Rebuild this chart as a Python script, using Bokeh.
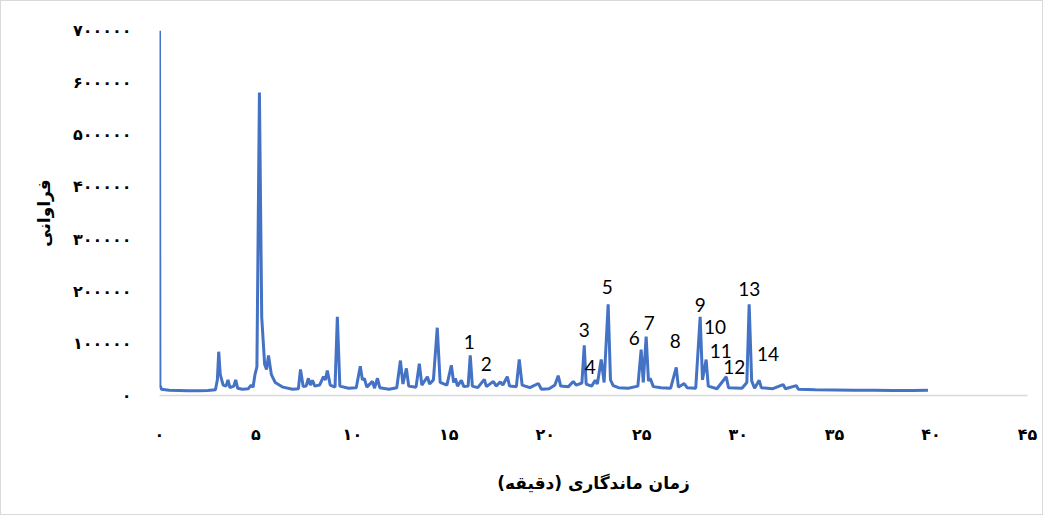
from bokeh.plotting import figure
from bokeh.models import Range1d, FixedTicker, ColumnDataSource
from bokeh.core.properties import value
from bokeh.embed import file_html
from bokeh.resources import INLINE

# retention time (min) and abundance
times = [0.00, 0.02, 0.1, 0.5, 1.0, 1.5, 2.0, 2.5, 2.9, 3.0, 3.07, 3.15, 3.3, 3.45, 3.55, 3.65,
         3.85, 3.95, 4.05, 4.3, 4.6, 4.75, 4.85, 4.95, 5.05, 5.18, 5.3, 5.45, 5.55, 5.65, 5.8,
         6.0, 6.4, 6.9, 7.2, 7.31, 7.45, 7.6, 7.72, 7.82, 7.93, 8.05, 8.3, 8.5, 8.6, 8.7, 8.85,
         9.1, 9.22, 9.35, 9.8, 10.2, 10.41, 10.52, 10.62, 10.75, 11.04, 11.15, 11.3, 11.42,
         11.9, 12.3, 12.49, 12.62, 12.8, 12.92, 13.3, 13.47, 13.6, 13.89, 14.0, 14.2, 14.4,
         14.55, 14.9, 15.13, 15.25, 15.34, 15.45, 15.65, 15.78, 16.0, 16.11, 16.22, 16.5,
         16.84, 16.95, 17.31, 17.45, 17.67, 17.8, 18.03, 18.15, 18.5, 18.65, 18.8, 19.2,
         19.64, 19.8, 20.2, 20.5, 20.67, 20.8, 21.2, 21.45, 21.6, 21.9, 22.02, 22.12, 22.4,
         22.59, 22.7, 22.9, 23.05, 23.26, 23.38, 23.52, 23.8, 24.3, 24.8, 24.97, 25.08, 25.23,
         25.35, 25.44, 25.6, 26.0, 26.5, 26.79, 26.9, 27.2, 27.35, 27.8, 28.03, 28.15, 28.34,
         28.45, 28.9, 29.38, 29.5, 30.2, 30.45, 30.57, 30.7, 30.85, 31.09, 31.2, 31.8, 32.33,
         32.45, 33.01, 33.12, 34.0, 35.0, 36.0, 37.0, 38.0, 39.0, 39.84]
abundance = [700000, 20000, 12000, 10000, 9500, 9000, 9000, 9500, 11000, 30000, 84000, 40000,
             20000, 18000, 30000, 15000, 18000, 30000, 14000, 12000, 13000, 20000, 16000, 40000,
             55000, 581000, 150000, 60000, 50000, 77000, 40000, 25000, 16000, 12000, 13000,
             50000, 17000, 18000, 33000, 20000, 29000, 18000, 20000, 36000, 30000, 48000, 20000,
             16000, 151000, 18000, 14000, 15000, 56000, 30000, 33000, 16000, 27000, 14000, 33000,
             15000, 12000, 15000, 67000, 22000, 52000, 18000, 16000, 61000, 20000, 36000, 22000,
             30000, 130000, 25000, 20000, 58000, 25000, 33000, 18000, 29000, 17000, 18000, 77000,
             18000, 15000, 31000, 17000, 27000, 18000, 26000, 20000, 36000, 18000, 17000, 69000,
             20000, 15000, 23000, 12000, 13000, 20000, 38000, 18000, 17000, 27000, 20000, 24000,
             96000, 22000, 18000, 29000, 22000, 69000, 25000, 175000, 30000, 19000, 15000, 14000,
             18000, 88000, 25000, 113000, 28000, 33000, 17000, 15000, 14000, 54000, 16000, 23000,
             15000, 14000, 151000, 30000, 69000, 18000, 13000, 36000, 15000, 14000, 25000, 175000,
             28000, 14000, 29000, 15000, 13000, 21000, 13000, 19000, 12000, 11000, 10500, 10000,
             10000, 9500, 9500, 10000]

# peak numbers and their label positions
peak_labels = ["1", "2", "3", "4", "5", "6", "7", "8", "9", "10", "11", "12", "13", "14"]
label_t = [16.06, 16.94, 22.02, 22.33, 23.21, 24.61, 25.39, 26.74, 28.03, 28.8, 29.1, 29.8, 30.57, 31.55]
label_y = [101700, 61000, 125000, 54000, 209000, 111000, 140000, 103600, 174500, 132000, 86000,
           55600, 205000, 80500]

x_ticks = [0, 5, 10, 15, 20, 25, 30, 35, 40, 45]
x_tick_labels = ["۰", "۵", "۱۰", "۱۵", "۲۰", "۲۵", "۳۰", "۳۵", "۴۰", "۴۵"]
y_ticks = [0, 100000, 200000, 300000, 400000, 500000, 600000, 700000]
y_tick_labels = ["۰", "۱۰۰۰۰۰", "۲۰۰۰۰۰", "۳۰۰۰۰۰", "۴۰۰۰۰۰", "۵۰۰۰۰۰", "۶۰۰۰۰۰", "۷۰۰۰۰۰"]

p = figure(width=1043, height=515, output_backend="svg", toolbar_location=None,
           x_range=Range1d(0, 45), y_range=Range1d(0, 700000),
           min_border_left=158, min_border_right=17, min_border_top=29, min_border_bottom=121)
p.styles = {"border": "1px solid #d9d9d9", "box-sizing": "border-box"}
p.outline_line_color = None
p.xgrid.visible = False
p.ygrid.visible = False
p.background_fill_color = "white"
p.border_fill_color = "white"

p.line(times, abundance, line_color="#4472C4", line_width=3)

src = ColumnDataSource(dict(x=label_t, y=label_y, t=peak_labels))
p.text(x="x", y="y", text="t", source=src, text_align="center", text_baseline="middle",
       text_font=value("Lato"), text_font_size="19px", text_color="#000000")

p.xaxis.ticker = FixedTicker(ticks=x_ticks)
p.xaxis.major_label_overrides = {t: l for t, l in zip(x_ticks, x_tick_labels)}
p.yaxis.ticker = FixedTicker(ticks=y_ticks)
p.yaxis.major_label_overrides = {t: l for t, l in zip(y_ticks, y_tick_labels)}

for ax in (p.xaxis[0], p.yaxis[0]):
    ax.major_tick_line_color = None
    ax.minor_tick_line_color = None
    ax.major_label_text_font = "DejaVu Sans"
    ax.major_label_text_font_style = "bold"
    ax.major_label_text_font_size = "16px"
    ax.major_label_text_color = "#000000"
    ax.axis_label_text_font = "DejaVu Sans"
    ax.axis_label_text_font_style = "bold"
    ax.axis_label_text_font_size = "17px"
    ax.axis_label_text_color = "#000000"

p.xaxis.axis_line_color = "#d9d9d9"
p.xaxis.axis_line_width = 1.5
p.yaxis.axis_line_color = None
p.xaxis.major_label_standoff = 23
p.yaxis.major_label_standoff = 22
p.xaxis.axis_label = "زمان ماندگاری (دقیقه)"
p.yaxis.axis_label = "فراوانی"
p.xaxis.axis_label_standoff = 26
p.yaxis.axis_label_standoff = 16

open("out.html", "w").write(file_html(p, INLINE))
